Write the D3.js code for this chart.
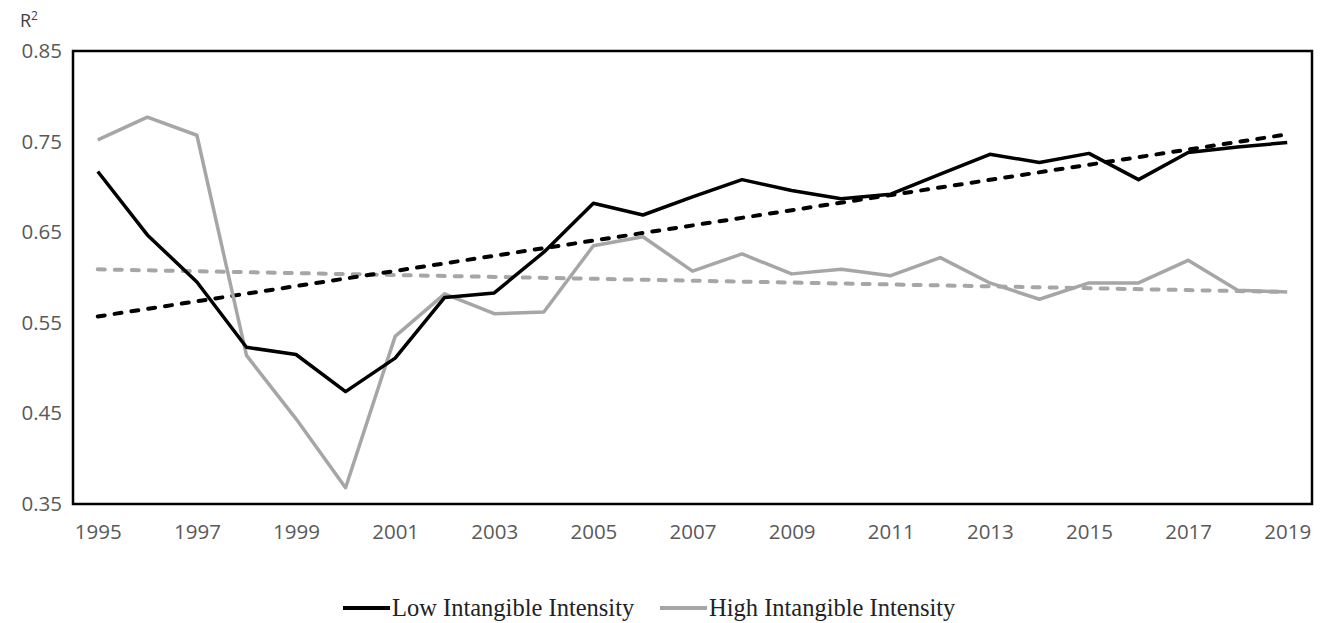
<!DOCTYPE html>
<html>
<head>
<meta charset="utf-8">
<script src="https://cdn.jsdelivr.net/npm/d3@7"></script>
<style>
  body { margin: 0; background: #fff; }
  svg { display: block; }
</style>
</head>
<body>
<svg id="chart" width="1332" height="623"></svg>
<script>
const years = [1995,1996,1997,1998,1999,2000,2001,2002,2003,2004,2005,2006,2007,2008,2009,2010,2011,2012,2013,2014,2015,2016,2017,2018,2019];
const lowIntensity  = [0.717,0.647,0.595,0.523,0.515,0.474,0.511,0.578,0.583,0.628,0.682,0.669,0.689,0.708,0.696,0.687,0.692,0.714,0.736,0.727,0.737,0.708,0.738,0.744,0.749];
const highIntensity = [0.752,0.777,0.757,0.514,0.444,0.368,0.535,0.582,0.560,0.562,0.635,0.645,0.607,0.626,0.604,0.609,0.602,0.622,0.594,0.576,0.594,0.594,0.619,0.586,0.584];
const trendYears = [1995, 2019];
const lowTrend  = [0.557, 0.758];
const highTrend = [0.609, 0.584];
const yTicks = [0.35,0.45,0.55,0.65,0.75,0.85];
const xTickYears = [1995,1997,1999,2001,2003,2005,2007,2009,2011,2013,2015,2017,2019];
const seriesNames = ["Low Intangible Intensity", "High Intangible Intensity"];

const svg = d3.select("#chart");
const m = {left: 73, right: 1312, top: 51, bottom: 504};
const x = d3.scalePoint().domain(years).range([m.left, m.right]).padding(0.5);
const y = d3.scaleLinear().domain([0.35, 0.85]).range([m.bottom, m.top]);

const tickFont = "'Open Sans', sans-serif";
const tickColor = "#595959";

// y axis labels
const yAxis = d3.axisLeft(y).tickValues(yTicks).tickFormat(d3.format(".2f")).tickSize(0).tickPadding(11);
const gy = svg.append("g").attr("transform", `translate(${m.left},0)`).call(yAxis);
gy.select(".domain").remove();
gy.selectAll("text").attr("font-family", tickFont).attr("font-size", 20.5).attr("fill", tickColor);

// x axis labels
const xAxis = d3.axisBottom(x).tickValues(xTickYears).tickFormat(d => d).tickSize(0).tickPadding(20);
const gx = svg.append("g").attr("transform", `translate(0,${m.bottom})`).call(xAxis);
gx.select(".domain").remove();
gx.selectAll("text").attr("font-family", tickFont).attr("font-size", 20.5).attr("fill", tickColor);

// R^2 label
const rl = svg.append("text").attr("x", 20).attr("y", 27).attr("font-family", tickFont).attr("font-size", 18).attr("fill", "#404040");
rl.append("tspan").text("R");
rl.append("tspan").attr("dy", -7).attr("font-size", 12).text("2");

// plot frame
svg.append("rect").attr("x", m.left).attr("y", m.top).attr("width", m.right - m.left).attr("height", m.bottom - m.top)
  .attr("fill", "none").attr("stroke", "#000").attr("stroke-width", 2.5);

const line = d3.line().x(d => x(d[0])).y(d => y(d[1]));
const gray = "#a6a6a6";

// trend lines
svg.append("path").datum(trendYears.map((t, i) => [t, highTrend[i]])).attr("d", line)
  .attr("fill", "none").attr("stroke", gray).attr("stroke-width", 4).attr("stroke-dasharray", "7,10").attr("stroke-linecap", "round");
svg.append("path").datum(trendYears.map((t, i) => [t, lowTrend[i]])).attr("d", line)
  .attr("fill", "none").attr("stroke", "#000").attr("stroke-width", 4).attr("stroke-dasharray", "7,10").attr("stroke-linecap", "round");

// data lines
svg.append("path").datum(years.map((t, i) => [t, highIntensity[i]])).attr("d", line)
  .attr("fill", "none").attr("stroke", gray).attr("stroke-width", 3.5).attr("stroke-linejoin", "round");
svg.append("path").datum(years.map((t, i) => [t, lowIntensity[i]])).attr("d", line)
  .attr("fill", "none").attr("stroke", "#000").attr("stroke-width", 3.5).attr("stroke-linejoin", "round");

// legend
const legendFont = "'Liberation Serif', 'Times New Roman', serif";
const leg = [
  {name: seriesNames[0], color: "#000", x: 343, tx: 392},
  {name: seriesNames[1], color: gray, x: 660, tx: 709}
];
leg.forEach(l => {
  svg.append("line").attr("x1", l.x).attr("x2", l.x + 47).attr("y1", 608).attr("y2", 608)
    .attr("stroke", l.color).attr("stroke-width", 4);
  svg.append("text").attr("x", l.tx).attr("y", 616).attr("font-family", legendFont).attr("font-size", 24.5)
    .attr("fill", "#222").text(l.name);
});
</script>
</body>
</html>
